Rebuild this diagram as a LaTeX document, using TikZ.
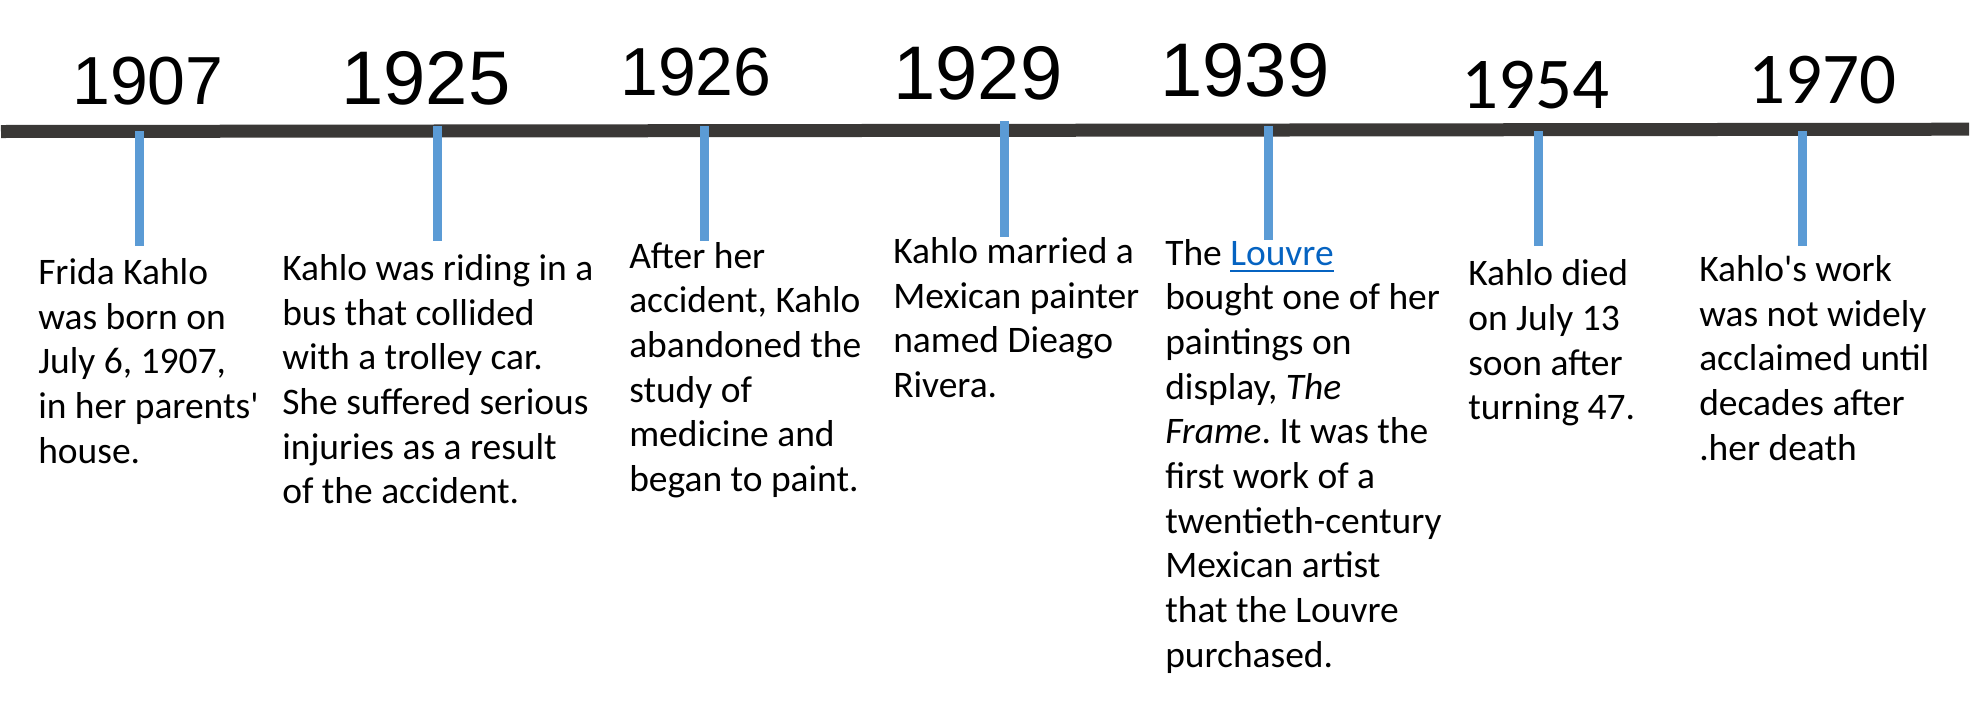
\documentclass[tikz,border=0pt]{standalone}
\usepackage{fontspec}
\setmainfont{Carlito}
\newfontfamily\arialfont{Liberation Sans}
\definecolor{axisgray}{HTML}{3A3836}
\definecolor{tickblue}{HTML}{5B9BD5}
\definecolor{linkblue}{HTML}{0563C1}
\newcommand{\linktext}[1]{{\color{linkblue}\setbox0\hbox{#1}\rlap{\rule[-5pt]{\wd0}{1.4pt}}\box0}}
\frenchspacing
\begin{document}
\begin{tikzpicture}[x=0.75pt,y=-0.75pt,
           axis_style/.style={draw=axisgray,line width=9.75pt},
           tick_style/.style={draw=tickblue,line width=6.75pt},
           year_small/.style={anchor=base,inner sep=0pt,font=\arialfont\fontsize{51}{60}\selectfont},
           year_big/.style={anchor=base,inner sep=0pt,font=\arialfont\fontsize{57}{66}\selectfont},
           year_calibri/.style={anchor=base,inner sep=0pt,font=\fontsize{54.75}{64}\selectfont},
           note_style/.style={anchor=base west,inner sep=0pt,align=left,font=\fontsize{28.1}{33.5}\selectfont}]
            \useasboundingbox (0,0) rectangle (1976,704);
            \coordinate (bar_left) at (1,131.5);
            \coordinate (bar_right) at (1969,129.2);
            \draw[axis_style] (bar_left) -- (bar_right);
            \coordinate (a1907) at (139.5,131);
            \coordinate (b1907) at (139.5,245.5);
            \coordinate (a1925) at (437.5,126);
            \coordinate (b1925) at (437.5,241);
            \coordinate (a1926) at (704,126);
            \coordinate (b1926) at (704,241);
            \coordinate (a1929) at (1004,121);
            \coordinate (b1929) at (1004,237);
            \coordinate (a1939) at (1268,126);
            \coordinate (b1939) at (1268,240);
            \coordinate (a1954) at (1538.5,131);
            \coordinate (b1954) at (1538.5,245.5);
            \coordinate (a1970) at (1802.5,131);
            \coordinate (b1970) at (1802.5,245.5);
            \draw[tick_style] (a1907) -- (b1907);
            \draw[tick_style] (a1925) -- (b1925);
            \draw[tick_style] (a1926) -- (b1926);
            \draw[tick_style] (a1929) -- (b1929);
            \draw[tick_style] (a1939) -- (b1939);
            \draw[tick_style] (a1954) -- (b1954);
            \draw[tick_style] (a1970) -- (b1970);
            \node[year_small] (y1907) at (148,104) {1907};
            \node[year_big] (y1925) at (426,104) {1925};
            \node[year_small] (y1926) at (696,95) {1926};
            \node[year_big] (y1929) at (978,99) {1929};
            \node[year_big] (y1939) at (1245,96) {1939};
            \node[year_calibri] (y1954) at (1535,108) {1954};
            \node[year_calibri] (y1970) at (1822,103) {1970};
            \node[note_style] (n1907) at (38,463.2) {Frida Kahlo\\was born on\\July 6, 1907,\\in her parents\textquotesingle\\house.};
            \node[note_style] (n1925) at (282,503.9) {Kahlo was riding in a\\bus that collided\\with a trolley car.\\She suffered serious\\injuries as a result\\of the accident.};
            \node[note_style] (n1926) at (629,491.5) {After her\\accident, Kahlo\\abandoned the\\study of\\medicine and\\began to paint.};
            \node[note_style] (n1929) at (893,397.5) {Kahlo married a\\Mexican painter\\named Dieago\\Rivera.};
            \node[note_style] (n1939) at (1165,667.3) {The \linktext{Louvre}\\bought one of her\\paintings on\\display, \textit{The}\\\textit{Frame}. It was the\\first work of a\\twentieth-century\\Mexican artist\\that the Louvre\\purchased.};
            \node[note_style] (n1954) at (1468,419.8) {Kahlo died\\on July 13\\soon after\\turning 47.};
            \node[note_style] (n1970) at (1699,460) {Kahlo\textquotesingle s work\\was not widely\\acclaimed until\\decades after\\.her death};
        \end{tikzpicture}
\end{document}
